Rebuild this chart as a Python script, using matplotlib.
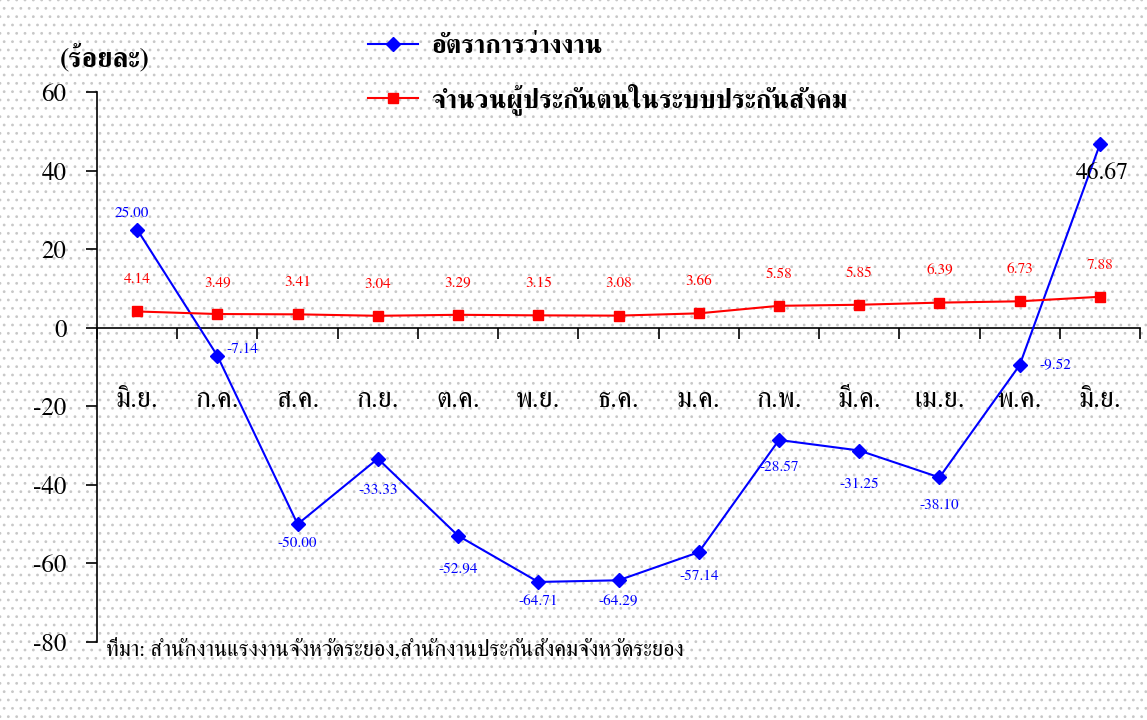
import matplotlib.pyplot as plt
from matplotlib.patches import Rectangle
from matplotlib.ticker import FixedLocator

months = ['มิ.ย.', 'ก.ค.', 'ส.ค.', 'ก.ย.', 'ต.ค.', 'พ.ย.', 'ธ.ค.',
          'ม.ค.', 'ก.พ.', 'มี.ค.', 'เม.ย.', 'พ.ค.', 'มิ.ย.']
unemployment = [25.00, -7.14, -50.00, -33.33, -52.94, -64.71, -64.29,
                -57.14, -28.57, -31.25, -38.10, -9.52, 46.67]
insured = [4.14, 3.49, 3.41, 3.04, 3.29, 3.15, 3.08,
           3.66, 5.58, 5.85, 6.39, 6.73, 7.88]
yticks = [60, 40, 20, 0, -20, -40, -60, -80]

plt.rcParams['font.family'] = ['FreeSerif', 'Liberation Serif', 'DejaVu Sans']
plt.rcParams['axes.unicode_minus'] = False
plt.rcParams['hatch.color'] = '#c8c8c8'
plt.rcParams['hatch.linewidth'] = 0.8

fig = plt.figure(figsize=(11.47, 7.2), dpi=100)
fig.patches.append(Rectangle((0, 0), 1, 1, transform=fig.transFigure,
                             facecolor='white', edgecolor='#c8c8c8',
                             hatch='..', linewidth=0, zorder=-10))

ax = fig.add_axes([0.0846, 0.1083, 0.9093, 0.7639])
ax.set_facecolor('none')
x = list(range(len(months)))

ax.plot(x, unemployment, color='blue', marker='D', markersize=7,
        linewidth=1.5, label='อัตราการว่างงาน', zorder=3)
ax.plot(x, insured, color='red', marker='s', markersize=7,
        linewidth=1.5, label='จำนวนผู้ประกันตนในระบบประกันสังคม', zorder=3)

ax.set_xlim(-0.5, 12.5)
ax.set_ylim(-80, 60)
ax.set_yticks(yticks)
ax.tick_params(axis='y', direction='out', length=8, width=1.2,
               labelsize=18, pad=14)

ax.spines['top'].set_visible(False)
ax.spines['right'].set_visible(False)
ax.spines['bottom'].set_position(('data', 0))
ax.spines['left'].set_linewidth(1.2)
ax.spines['bottom'].set_linewidth(1.2)

ax.set_xticks(x)
ax.set_xticklabels(months)
ax.xaxis.set_minor_locator(FixedLocator([i + 0.5 for i in range(-1, 13)]))
ax.tick_params(axis='x', which='major', length=0, labelsize=20, pad=43)
ax.tick_params(axis='x', which='minor', direction='out', length=8, width=1.2)

# data labels - blue series
blue_off = [(-4, 12), (18, 5), (0, -14), (0, -23), (0, -24), (0, -14),
            (0, -15), (0, -17), (0, -20), (0, -24), (0, -20), (26, 0)]
for i, v in enumerate(unemployment[:-1]):
    dx, dy = blue_off[i]
    ax.annotate(f'{v:.2f}', (x[i], v), xytext=(dx, dy),
                textcoords='offset points', ha='center', va='center',
                color='blue', fontsize=11)
ax.annotate(f'{unemployment[-1]:.2f}', (x[-1], unemployment[-1]),
            xytext=(2, -21), textcoords='offset points', ha='center',
            va='center', color='black', fontsize=17)

# data labels - red series
for i, v in enumerate(insured):
    ax.annotate(f'{v:.2f}', (x[i], v), xytext=(0, 23),
                textcoords='offset points', ha='center', va='center',
                color='red', fontsize=11)

fig.legend(loc='upper left', bbox_to_anchor=(0.3, 0.985), frameon=False,
           prop={'weight': 'bold', 'size': 19}, labelspacing=0.95,
           handlelength=1.9, handletextpad=0.5)

fig.text(0.052, 0.908, '(ร้อยละ)', fontsize=20, fontweight='bold')
fig.text(0.092, 0.09, 'ที่มา: สำนักงานแรงงานจังหวัดระยอง,สำนักงานประกันสังคมจังหวัดระยอง',
         fontsize=16)

fig.savefig('out.png', dpi=100)
